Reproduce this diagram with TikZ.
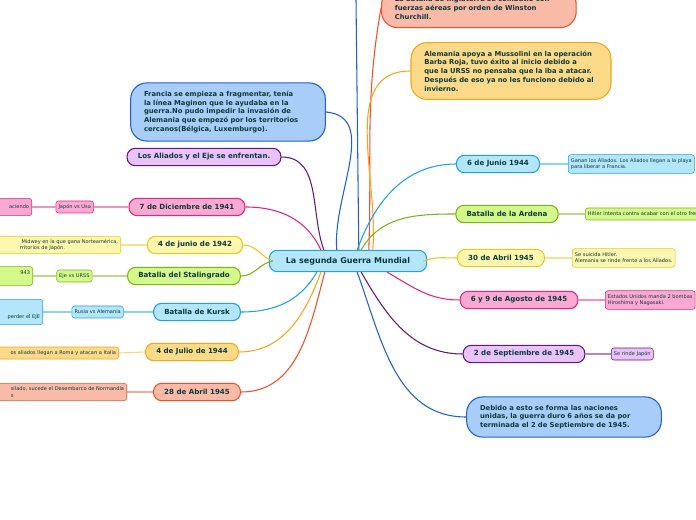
\documentclass[tikz,border=0pt]{standalone}
\usepackage{fontspec}
\setmainfont{DejaVu Sans}
\usetikzlibrary{positioning}
\hyphenpenalty=10000
\exhyphenpenalty=10000
\definecolor{cblue}{HTML}{A8CDF8}\definecolor{dblue}{HTML}{1F5FCF}
\definecolor{csky}{HTML}{B3E5FB}\definecolor{dsky}{HTML}{1EA2E0}
\definecolor{cpurp}{HTML}{E9C2F9}\definecolor{dpurp}{HTML}{5E1A78}
\definecolor{cpink}{HTML}{FBA9D3}\definecolor{dpink}{HTML}{E8247A}
\definecolor{cyell}{HTML}{FDF6AE}\definecolor{dyell}{HTML}{E6C822}
\definecolor{cgreen}{HTML}{D4F88A}\definecolor{dgreen}{HTML}{7AB317}
\definecolor{corange}{HTML}{FDD98A}\definecolor{dorange}{HTML}{F3A71A}
\definecolor{csalm}{HTML}{F9BBA8}\definecolor{dsalm}{HTML}{F0512A}
\definecolor{ink}{HTML}{0D3B3B}
\tikzset{
  topic/.style={draw=#1, thick, rounded corners=6pt, minimum height=13pt, text=ink,
    font=\fontsize{5.3}{6.5}\selectfont\bfseries, inner xsep=8pt},
  leaf/.style={draw=#1, thin, rounded corners=2pt, text=ink, font=\fontsize{3.8}{4.6}\selectfont,
    align=left, inner sep=2pt, minimum height=9pt},
  big/.style={topic=#1, align=left, rounded corners=12pt, inner xsep=10pt, inner ysep=6pt,
    font=\fontsize{5.1}{6.6}\selectfont\bfseries},
  conn/.style={thick, draw=#1},
  lconn/.style={thick, draw=#1!50},
}
\begin{document}
\begin{tikzpicture}[x=0.75pt,y=-0.75pt]
\useasboundingbox (0,0) rectangle (696,520);
\clip (0,0) rectangle (696,520);
\node[topic=dsky, fill=csky, minimum width=118pt, minimum height=16pt, font=\fontsize{6}{7}\selectfont\bfseries] (main) at (348,261) {La segunda Guerra Mundial};
% left
\node[big=dblue, fill=cblue, text width=126pt] (francia) at (228,112) {Francia se empieza a fragmentar, tenía la línea Maginon que le ayudaba en la guerra.No pudo impedir la invasión de Alemania que empezó por los territorios cercanos(Bélgica, Luxemburgo).};
\node[topic=dpurp, fill=cpurp] (aliados) at (204,157) {Los Aliados y el Eje se enfrentan.};
\node[topic=dpink, fill=cpink] (dic41) at (187,207) {7 de Diciembre de 1941};
\node[topic=dyell, fill=cyell] (jun42) at (195,245) {4 de junio de 1942};
\node[topic=dgreen, fill=cgreen] (stal) at (184,276) {Batalla del Stalingrado};
\node[topic=dsky, fill=csky] (kursk) at (197,312) {Batalla de Kursk};
\node[topic=dorange, fill=corange] (jul44) at (192,352) {4 de Julio de 1944};
\node[topic=dsalm, fill=csalm] (abr45) at (197,392) {28 de Abril 1945};
\node[leaf=dpink, fill=cpink, left=26pt of dic41] (japusa) {Japón vs Usa};
\node[leaf=dpink, fill=cpink, minimum height=13pt, anchor=east] (dic41t) at (32,207) {\hspace*{20pt}aciendo};
\node[leaf=dyell, fill=cyell, minimum height=13pt, anchor=east] (jun42t) at (121,245) {\hspace*{20pt}\ Midwey en la que gana Norteamérica,\\\hspace*{20pt}rritorios de Japón.};
\node[leaf=dgreen, fill=cgreen, left=26pt of stal] (ejeurss) {Eje vs URSS};
\node[leaf=dgreen, fill=cgreen, minimum height=14pt, anchor=east, text depth=5pt] (stalt) at (33,276) {\hspace*{20pt}943};
\node[leaf=dsky, fill=csky, left=22pt of kursk] (rusale) {Rusia vs Alemania};
\node[leaf=dsky, fill=csky, minimum height=19pt, anchor=east, text height=10pt] (kurskt) at (43,312) {\hspace*{20pt}perder el EJE};
\node[leaf=dorange, fill=corange, anchor=east] (jul44t) at (119,353) {\hspace*{20pt}os aliados llegan a Roma y atacan a Italia};
\node[leaf=dsalm, fill=csalm, minimum height=13pt, anchor=east] (abr45t) at (127,392) {\hspace*{20pt}silado, sucede el Desembarco de Normandía\\\hspace*{20pt}s};
% top
\node[big=dsalm, fill=csalm, text width=126pt, anchor=north west] (church) at (381,-12) {La batalla de Inglaterra se combatió con fuerzas aéreas por orden de Winston Churchill.};
\node[big=dorange, fill=corange, text width=130pt] (barba) at (511,71) {Alemania apoya a Mussolini en la operación Barba Roja, tuvo éxito al inicio debido a que la URSS no pensaba que la iba a atacar. Después de eso ya no les funciono debido al invierno.};
\coordinate (up) at (356,0);
% right
\node[topic=dsky, fill=csky] (jun44) at (498,164) {6 de Junio 1944};
\node[topic=dgreen, fill=cgreen] (ardena) at (507,214) {Batalla de la Ardena};
\node[topic=dyell, fill=cyell] (abr45b) at (501,258) {30 de Abril 1945};
\node[topic=dpink, fill=cpink] (ago45) at (519,300) {6 y 9 de Agosto de 1945};
\node[topic=dpurp, fill=cpurp] (sep45) at (524,354) {2 de Septiembre de 1945};
\node[big=dblue, fill=cblue, text width=126pt] (debido) at (564,417) {Debido a esto se forma las naciones unidas, la guerra duro 6 años se da por terminada el 2 de Septiembre de 1945.};
\node[leaf=dsky, fill=csky, minimum height=14pt, anchor=west] (jun44t) at (568,164) {Ganan los Aliados. Los Aliados llegan a la playa\\para liberar a Francia.};
\node[leaf=dgreen, fill=cgreen, anchor=west] (ardenat) at (585,214) {Hitler intenta contra acabar con el otro frente};
\node[leaf=dyell, fill=cyell, minimum height=14pt, anchor=west] (abr45bt) at (572,258) {Se suicida Hitler.\\Alemania se rinde frente a los Aliados.};
\node[leaf=dpink, fill=cpink, minimum height=14pt, anchor=west] (ago45t) at (605,300) {Estados Unidos manda 2 bombas\\Hiroshima y Nagasaki.};
\node[leaf=dpurp, fill=cpurp, anchor=west] (sep45t) at (611,354) {Se rinde Japón};
% connectors
\draw[conn=dblue] (main.north west) ++(68,0) to[out=95,in=-5] (francia.east);
\draw[conn=dpurp] (main.north west) ++(55,0) to[out=110,in=0] (aliados.east);
\draw[conn=dpink] (main.north west) ++(52,0) to[out=115,in=0] (dic41.east);
\draw[conn=dyell] (main.west) ++(4,0) to[out=160,in=0] (jun42.east);
\draw[conn=dgreen] (main.west) ++(4,0) to[out=190,in=0] (stal.east);
\draw[conn=dsky] (main.south west) ++(48,0) to[out=240,in=0] (kursk.east);
\draw[conn=dorange] (main.south west) ++(52,0) to[out=250,in=0] (jul44.east);
\draw[conn=dsalm] (main.south west) ++(56,0) to[out=255,in=0] (abr45.east);
\draw[conn=dblue] (main.north west) ++(90,0) -- (up);
\draw[conn=dsalm] (main.north west) ++(100,0) to[out=88,in=260] (church.west);
\draw[conn=dorange] (main.north west) ++(104,0) to[out=85,in=180] (barba.west);
\draw[conn=dsky] (main.north east) ++(-70,0) to[out=70,in=180] (jun44.west);
\draw[conn=dgreen] (main.north east) ++(-66,0) to[out=60,in=180] (ardena.west);
\draw[conn=dyell] (main.east) ++(-4,0) to[out=20,in=180] (abr45b.west);
\draw[conn=dpink] (main.south east) ++(-40,0) to[out=-30,in=180] (ago45.west);
\draw[conn=dpurp] (main.south east) ++(-66,0) to[out=-60,in=180] (sep45.west);
\draw[conn=dblue] (main.south east) ++(-70,0) to[out=-70,in=180] (debido.west);
\foreach \a/\b/\c in {dic41/japusa/dpink, japusa/dic41t/dpink, jun42/jun42t/dyell, stal/ejeurss/dgreen,
  ejeurss/stalt/dgreen, kursk/rusale/dsky, rusale/kurskt/dsky, jul44/jul44t/dorange, abr45/abr45t/dsalm}
  \draw[lconn=\c] (\a.west) -- (\b.east);
\foreach \a/\b/\c in {jun44/jun44t/dsky, ardena/ardenat/dgreen, abr45b/abr45bt/dyell, ago45/ago45t/dpink, sep45/sep45t/dpurp}
  \draw[lconn=\c] (\a.east) -- (\b.west);
\end{tikzpicture}
\end{document}
